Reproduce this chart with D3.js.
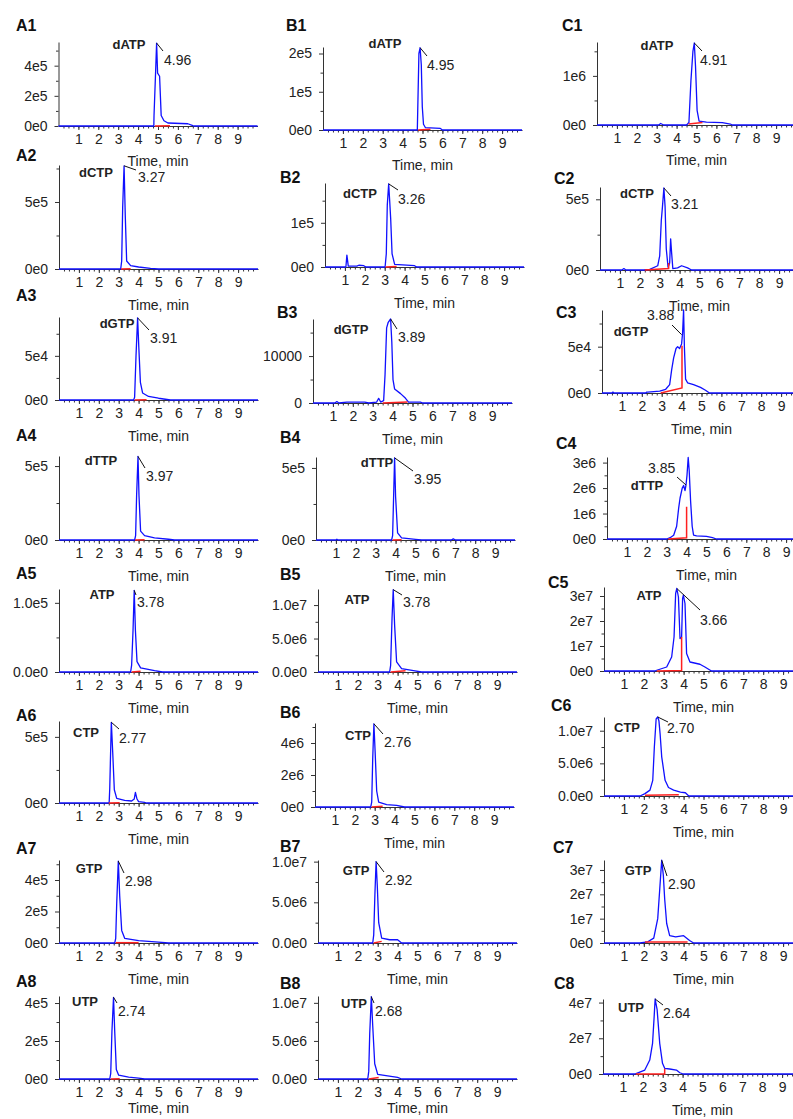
<!DOCTYPE html>
<html>
<head>
<meta charset="utf-8">
<script src="https://cdn.jsdelivr.net/npm/d3@7"></script>
<style>
body { margin: 0; background: #fff; }
svg { display: block; font-family: "Liberation Sans", Arial, sans-serif; }
</style>
</head>
<body>
<div id="chart"></div>
<script>
const width = 793;
const height = 1119;

// panels in row order: A1 B1 C1, A2 B2 C2, ...
const panelIds = ["A1","B1","C1","A2","B2","C2","A3","B3","C3","A4","B4","C4",
                  "A5","B5","C5","A6","B6","C6","A7","B7","C7","A8","B8","C8"];
const compounds = ["dATP","dATP","dATP","dCTP","dCTP","dCTP","dGTP","dGTP","dGTP","dTTP","dTTP","dTTP",
                   "ATP","ATP","ATP","CTP","CTP","CTP","GTP","GTP","GTP","UTP","UTP","UTP"];
const rtLabels = ["4.96","4.95","4.91","3.27","3.26","3.21","3.91","3.89","3.88","3.97","3.95","3.85",
                  "3.78","3.78","3.66","2.77","2.76","2.70","2.98","2.92","2.90","2.74","2.68","2.64"];
const xTicks = [1, 2, 3, 4, 5, 6, 7, 8, 9];

// y axis top value and tick values for each panel
const yMax = [5.57e5, 2.17e5, 1.69e6, 7.76e5, 1.9e5, 5.87e5, 9.4e4, 1.79e4, 8.96e4, 5.68e5, 5.76e5, 3.22e6,
              1.2e5, 1.24e7, 3.36e7, 6.2e5, 5.25e6, 1.21e7, 5.27e5, 1.02e7, 3.41e7, 4.37e5, 1.09e7, 4.2e7];
const yTicks = [[0,2e5,4e5],[0,1e5,2e5],[0,1e6],[0,5e5],[0,1e5],[0,5e5],[0,5e4],[0,1e4],[0,5e4],
                [0,5e5],[0,5e5],[0,1e6,2e6,3e6],[0,1e5],[0,5e6,1e7],[0,1e7,2e7,3e7],[0,5e5],[0,2e6,4e6],
                [0,5e6,1e7],[0,2e5,4e5],[0,5e6,1e7],[0,1e7,2e7,3e7],[0,2e5,4e5],[0,5e6,1e7],[0,2e7,4e7]];
// decimals in the exponent label, -1 = plain number
const yDigits = [0,0,0, 0,0,0, 0,-1,0, 0,0,0, 1,1,0, 0,0,1, 0,1,0, 0,1,0];

// chromatograms: [time (min), intensity (cps)]
const traceA1 = [[0,0],[4.79,0],[4.8,0.7e5],[4.88,3.6e5],[4.93,5.5e5],[4.98,3.5e5],[5.08,3.3e5],[5.16,0.7e5],[5.3,0.35e5],[5.5,0.2e5],[6.5,0.15e5],[6.75,0.02e5],[6.8,0],[10,0]];
const traceB1 = [[0,0],[4.74,0],[4.76,0.5e5],[4.82,2.0e5],[4.88,2.15e5],[4.94,1.7e5],[4.99,0.6e5],[5.05,0.15e5],[5.15,0.06e5],[5.9,0.04e5],[6.0,0],[10,0]];
const traceC1 = [[0,0],[3.1,0],[3.2,0.03e6],[3.35,0],[4.5,0],[4.62,0.05e6],[4.72,0.9e6],[4.82,1.5e6],[4.89,1.67e6],[4.95,1.2e6],[5.03,0.3e6],[5.13,0.08e6],[5.5,0.06e6],[6.3,0.05e6],[6.7,0.02e6],[6.8,0],[10,0]];
const traceA2 = [[0,0],[3.1,0],[3.15,0.6e5],[3.2,4.6e5],[3.27,7.7e5],[3.33,4e5],[3.4,0.6e5],[3.6,0.25e5],[4.0,0.15e5],[4.6,0.05e5],[5.0,0],[10,0]];
const traceB2 = [[0,0],[1.05,0],[1.1,0.27e5],[1.17,0.02e5],[1.6,0.02e5],[1.7,0.04e5],[1.95,0.03e5],[2.05,0],[3.02,0],[3.08,0.3e5],[3.13,1.4e5],[3.2,1.88e5],[3.25,1.5e5],[3.3,1.1e5],[3.37,0.3e5],[3.5,0.06e5],[4.5,0.03e5],[4.6,0],[10,0]];
const traceC2 = [[0,0],[1.1,0],[1.2,0.1e5],[1.3,0],[2.2,0],[2.5,0.05e5],[2.9,0.3e5],[3.0,1e5],[3.08,3.5e5],[3.14,4.5e5],[3.21,5.8e5],[3.27,4.5e5],[3.33,1.5e5],[3.42,0.2e5],[3.5,0.5e5],[3.55,2.2e5],[3.6,1.2e5],[3.66,0.1e5],[3.9,0.15e5],[4.1,0.3e5],[4.4,0.15e5],[4.6,0],[10,0]];
const traceA3 = [[0,0],[3.75,0],[3.8,0.3e4],[3.87,5e4],[3.95,9.3e4],[4.01,6e4],[4.09,2e4],[4.2,0.8e4],[4.5,0.4e4],[5.0,0.2e4],[5.6,0],[10,0]];
const traceB3 = [[0,0],[1.1,0],[1.2,0.03e4],[1.3,0],[1.7,0.02e4],[2.6,0.02e4],[2.8,0],[3.2,0.02e4],[3.3,0.1e4],[3.4,0.02e4],[3.55,0.05e4],[3.62,0.6e4],[3.7,1.6e4],[3.78,1.72e4],[3.9,1.79e4],[3.96,1.3e4],[4.02,0.5e4],[4.1,0.3e4],[4.4,0.2e4],[4.65,0.1e4],[4.8,0.02e4],[5.4,0.02e4],[5.5,0],[10,0]];
const traceC3 = [[0,0],[0.5,0],[0.55,0.1e4],[0.6,0],[2.2,0],[2.25,0.1e4],[2.3,0.1e4],[2.9,0.2e4],[3.2,0.4e4],[3.4,0.9e4],[3.5,2.5e4],[3.6,3.8e4],[3.72,4.8e4],[3.8,5e4],[3.9,4.8e4],[4.0,5.3e4],[4.05,6.5e4],[4.1,8.96e4],[4.14,5e4],[4.2,1.5e4],[4.3,1.1e4],[4.6,0.9e4],[4.95,0.6e4],[5.2,0.3e4],[5.4,0],[10,0]];
const traceA4 = [[0,0],[3.8,0],[3.85,0.3e5],[3.9,3e5],[3.97,5.65e5],[4.02,3e5],[4.1,0.6e5],[4.3,0.3e5],[4.8,0.15e5],[5.5,0.05e5],[5.8,0],[10,0]];
const traceB4 = [[0,0],[1.0,0],[1.05,0.05e5],[1.1,0],[3.8,0],[3.85,0.3e5],[3.9,3e5],[3.95,5.7e5],[4.0,3e5],[4.1,0.5e5],[4.3,0.15e5],[5.0,0.05e5],[5.3,0],[6.8,0],[6.9,0.08e5],[7.0,0],[10,0]];
const traceC4 = [[0,0],[3.0,0],[3.17,0.05e6],[3.35,0.15e6],[3.5,0.5e6],[3.6,1.2e6],[3.67,1.6e6],[3.78,2.0e6],[3.85,2.1e6],[3.92,1.9e6],[3.97,2.12e6],[4.02,2.5e6],[4.08,3.2e6],[4.13,2.7e6],[4.2,1.5e6],[4.28,0.5e6],[4.35,0.15e6],[4.5,0.12e6],[5.0,0.1e6],[5.3,0.05e6],[5.5,0],[10,0]];
const traceA5 = [[0,0],[3.6,0],[3.65,0.1e5],[3.72,0.6e5],[3.78,1.18e5],[3.84,0.6e5],[3.92,0.15e5],[4.1,0.06e5],[4.8,0.02e5],[5.2,0],[10,0]];
const traceB5 = [[0,0],[3.6,0],[3.65,0.1e7],[3.72,0.8e7],[3.78,1.23e7],[3.85,0.7e7],[3.95,0.15e7],[4.2,0.05e7],[4.8,0.02e7],[5.2,0],[10,0]];
const traceC5 = [[0,0],[2.55,0],[2.65,0.03e7],[3.15,0.16e7],[3.4,0.56e7],[3.52,1.36e7],[3.6,3.1e7],[3.66,3.3e7],[3.74,2.96e7],[3.82,1.3e7],[3.9,1.36e7],[3.95,2.9e7],[3.99,3.03e7],[4.07,2.7e7],[4.15,0.7e7],[4.32,0.36e7],[4.82,0.27e7],[5.07,0.16e7],[5.4,0],[10,0]];
const traceA6 = [[0,0],[2.52,0],[2.55,1.1e5],[2.63,6.1e5],[2.7,3.8e5],[2.78,1e5],[2.9,0.35e5],[3.3,0.2e5],[3.65,0.15e5],[3.78,0.3e5],[3.84,0.8e5],[3.92,0.3e5],[4.0,0.1e5],[4.3,0.05e5],[4.4,0],[10,0]];
const traceB6 = [[0,0],[2.8,0],[2.85,0.3e6],[2.9,3e6],[2.96,5.2e6],[3.02,3.5e6],[3.1,1e6],[3.2,0.3e6],[3.6,0.15e6],[4.1,0.1e6],[4.5,0],[10,0]];
const traceC6 = [[0,0],[1.81,0],[2.06,0.036e7],[2.31,0.09e7],[2.45,0.24e7],[2.53,0.75e7],[2.62,1.18e7],[2.7,1.21e7],[2.76,1.15e7],[2.82,0.95e7],[2.9,0.6e7],[3.07,0.24e7],[3.24,0.13e7],[3.5,0.09e7],[3.84,0.06e7],[4.09,0.05e7],[4.26,0],[10,0]];
const traceA7 = [[0,0],[2.8,0],[2.85,0.3e5],[2.9,2.5e5],[2.98,5.2e5],[3.05,3e5],[3.15,0.8e5],[3.3,0.3e5],[4.0,0.15e5],[5.0,0.05e5],[5.5,0],[10,0]];
const traceB7 = [[0,0],[2.75,0],[2.8,0.1e7],[2.86,0.6e7],[2.92,1.0e7],[2.98,0.7e7],[3.05,0.25e7],[3.2,0.06e7],[3.6,0.04e7],[4.0,0.04e7],[4.2,0],[10,0]];
const traceC7 = [[0,0],[1.8,0],[2.2,0.05e7],[2.5,0.2e7],[2.7,1e7],[2.8,2.2e7],[2.9,3.4e7],[2.98,2.8e7],[3.05,1.8e7],[3.15,0.8e7],[3.3,0.3e7],[3.6,0.25e7],[4.0,0.3e7],[4.3,0.1e7],[4.5,0],[10,0]];
const traceA8 = [[0,0],[2.55,0],[2.6,0.3e5],[2.66,2.5e5],[2.74,4.3e5],[2.8,2.5e5],[2.88,0.5e5],[3.0,0.2e5],[3.5,0.1e5],[4.0,0.05e5],[4.3,0],[10,0]];
const traceB8 = [[0,0],[2.5,0],[2.55,0.1e7],[2.6,0.6e7],[2.68,1.08e7],[2.75,0.7e7],[2.85,0.2e7],[3.0,0.06e7],[3.5,0.04e7],[4.0,0.02e7],[4.2,0],[10,0]];
const traceC8 = [[0,0],[1.6,0],[1.69,0.04e7],[2.1,0.22e7],[2.35,0.78e7],[2.49,1.72e7],[2.57,3.2e7],[2.62,4.2e7],[2.72,3.6e7],[2.85,1.72e7],[2.99,0.6e7],[3.1,0.32e7],[3.35,0.28e7],[3.69,0.22e7],[3.86,0.07e7],[4.03,0],[10,0]];

const traces = [traceA1, traceB1, traceC1, traceA2, traceB2, traceC2, traceA3, traceB3, traceC3,
                traceA4, traceB4, traceC4, traceA5, traceB5, traceC5, traceA6, traceB6, traceC6,
                traceA7, traceB7, traceC7, traceA8, traceB8, traceC8];

// integration baselines (red)
const baselines = [
  [[4.85,0],[5.6,0.01e5]], [[4.78,0],[5.4,0.02e5]], [[4.6,0.02e6],[5.3,0.05e6]],
  [[3.12,0],[3.6,0.01e5]], [[3.05,0],[3.6,0.01e5]], [[2.25,0],[3.45,0.1e5],[3.45,0.5e5]],
  [[3.8,0],[4.4,0.02e4]], [[3.5,0],[4.75,0.02e4]], [[2.95,0],[4.02,0.55e4],[4.02,5.1e4]],
  [[3.82,0],[4.3,0.01e5]], [[3.85,0],[4.3,0.01e5]], [[3.08,0],[4.0,0.05e6],[4.0,1.27e6]],
  [[3.65,0],[4.1,0.01e5]], [[3.65,0],[4.4,0.02e7]], [[2.65,0],[3.9,0.02e7],[3.9,1.36e7]],
  [[2.5,0],[3.05,0.02e5]], [[2.85,0],[3.4,0.05e6]], [[2.06,0.01e7],[3.76,0.02e7]],
  [[2.85,0.02e5],[4.0,0.02e5]], [[2.8,0],[3.2,0.02e7]], [[2.06,0.04e7],[4.2,0.04e7]],
  [[2.6,0],[3.05,0.01e5]], [[2.55,0],[3.05,0.02e7]], [[1.65,0],[3.1,0],[3.1,0.3e7]]
];

// point the RT leader starts from when it is not the apex
const leaderFrom = {8: [4.0, 6.3e4], 11: [3.97, 2.12e6]};

// ---- layout (pixels) ----
// [axis left, axis bottom, plot height]
const frames = [
  [58.5,126,84],[323,130,83],[597,125,83],
  [59,269,104],[325,267,84],[600,270,83],
  [59,400,83],[313,403,84],[602,393,83],
  [59,540,84],[316,540,83],[607,539,82],
  [59,672,83],[318,672,83],[604,671,84],
  [59,803,82],[315,807,84],[604,796,79],
  [59,943,83],[318,943,83],[604,943,83],
  [59,1079,83],[318,1079,83],[603,1074,75]
];
// gap from axis to the "Time, min" baseline
const timeGap = [40,40,40, 41,41,41, 41,41,41, 41,41,41, 41,41,41, 41,41,41, 41,41,41, 34,34,41];
// panel tag position [x, cy]
const tagPos = [[16,25],[286,25],[562,25],[16,155],[280,177],[554,178],[16,295],[277,312],[556,312],
  [16,435],[280,437],[556,443],[16,573],[280,574],[548,582],[16,715],[280,712],[551,705],
  [16,848],[280,846],[553,847],[16,981],[280,983],[554,983]];
// compound label centre [x, cy]
const compPos = [[129,44],[385,43],[657,45],[96,172],[360,193],[637,193],[117,323],[351,329],[631,331],
  [101,460],[377,462],[647,485],[102,594],[357,599],[649,595],[86,732],[358,735],[627,727],
  [89,868],[356,870],[638,870],[85,1001],[354,1003],[631,1007]];
// RT label start [x, cy]
const rtPos = [[164,60],[427,65],[700,60],[138,177],[398,199],[671,204],[150,338],[398,337],[647,315],
  [146,476],[414,479],[648,468],[137,602],[403,602],[700,620],[119,738],[384,742],[667,728],
  [125,881],[385,880],[668,884],[118,1011],[375,1011],[663,1013]];
// RT leader end [x, y]
const leaderEnd = [[163,51],[427,56],[702,51],[136,170],[398,190],[671,196],[149,330],[397,329],[672,325],
  [145,468],[413,471],[677,477],[136,595],[402,595],[700,610],[119,729],[383,734],[668,722],
  [124,873],[384,872],[667,876],[117,1003],[374,1003],[663,1005]];

const svg = d3.select("#chart")
    .append("svg")
    .attr("width", width)
    .attr("height", height);

const blue = "#1010ff";
const red = "#ff2020";
const ink = "#222";

function fmtY(v, digits) {
    if (digits < 0) return String(v);
    return v.toExponential(digits).replace("+", "");
}

panelIds.forEach((id, i) => {
    const [left, bottom, h] = frames[i];
    const x = d3.scaleLinear().domain([0, 10]).range([left, left + 199]);
    const y = d3.scaleLinear().domain([0, yMax[i]]).range([bottom, bottom - h]);
    const g = svg.append("g");

    // minor ticks
    const ticksY = yTicks[i];
    const step = ticksY[1] - ticksY[0];
    const minorY = d3.range(step / 2, yMax[i], step / 2).filter(v => !ticksY.includes(v));

    g.append("g")
        .attr("transform", `translate(0,${bottom})`)
        .call(d3.axisBottom(x).tickValues(d3.range(0.25, 10, 0.25)).tickSize(2.5).tickSizeOuter(0).tickFormat(""))
        .call(a => a.select(".domain").remove());
    g.append("g")
        .attr("transform", `translate(${left},0)`)
        .call(d3.axisLeft(y).tickValues(minorY).tickSize(2.5).tickSizeOuter(0).tickFormat(""))
        .call(a => a.select(".domain").remove());

    const xAxis = g.append("g")
        .attr("transform", `translate(0,${bottom})`)
        .call(d3.axisBottom(x).tickValues(xTicks).tickSize(4).tickSizeOuter(0).tickPadding(4).tickFormat(d3.format("d")));
    const yAxis = g.append("g")
        .attr("transform", `translate(${left},0)`)
        .call(d3.axisLeft(y).tickValues(ticksY).tickSize(4).tickSizeOuter(0).tickPadding(7).tickFormat(v => fmtY(v, yDigits[i])));

    [xAxis, yAxis].forEach(a => {
        a.selectAll("text").attr("font-size", 14).attr("fill", ink).attr("font-family", "Liberation Sans, Arial, sans-serif");
    });
    g.selectAll(".domain, .tick line").attr("stroke", "#333");

    g.append("text")
        .attr("x", x(5))
        .attr("y", bottom + timeGap[i])
        .attr("text-anchor", "middle")
        .attr("font-size", 14)
        .attr("fill", ink)
        .text("Time, min");

    const line = d3.line().x(d => x(d[0])).y(d => y(d[1]));

    // chromatogram
    g.append("path")
        .datum(traces[i])
        .attr("d", line)
        .attr("fill", "none")
        .attr("stroke", blue)
        .attr("stroke-width", 1.3)
        .attr("stroke-linejoin", "round");

    // integration baseline, drawn over the trace
    g.append("path")
        .datum(baselines[i])
        .attr("d", line)
        .attr("fill", "none")
        .attr("stroke", red)
        .attr("stroke-width", 1.5);

    // RT leader
    const apex = leaderFrom[i] || traces[i].reduce((m, d) => d[1] > m[1] ? d : m);
    g.append("line")
        .attr("x1", x(apex[0])).attr("y1", y(apex[1]))
        .attr("x2", leaderEnd[i][0]).attr("y2", leaderEnd[i][1])
        .attr("stroke", "#111")
        .attr("stroke-width", 1);

    g.append("text")
        .attr("x", rtPos[i][0])
        .attr("y", rtPos[i][1])
        .attr("dy", "0.36em")
        .attr("font-size", 14)
        .attr("fill", ink)
        .text(rtLabels[i]);

    g.append("text")
        .attr("x", compPos[i][0])
        .attr("y", compPos[i][1])
        .attr("dy", "0.36em")
        .attr("text-anchor", "middle")
        .attr("font-size", 13)
        .attr("font-weight", "bold")
        .attr("fill", ink)
        .text(compounds[i]);

    g.append("text")
        .attr("x", tagPos[i][0])
        .attr("y", tagPos[i][1])
        .attr("dy", "0.36em")
        .attr("font-size", 16)
        .attr("font-weight", "bold")
        .attr("fill", "#111")
        .text(id);
});
</script>
</body>
</html>
